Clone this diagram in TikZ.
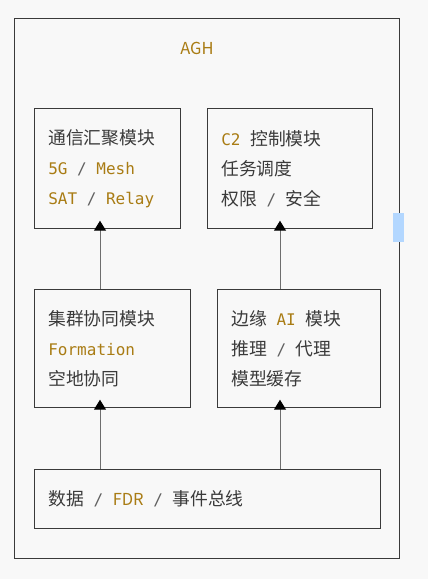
\documentclass[tikz,border=0pt]{standalone}
\usepackage{fontspec}
\setmonofont{DejaVu Sans Mono}
\newfontfamily\cjk{Noto Sans CJK SC}
\usetikzlibrary{arrows.meta}

\definecolor{agold}{HTML}{A97C14}
\definecolor{ink}{HTML}{3A3A3A}
\definecolor{pipe}{HTML}{6E6E6E}
\definecolor{paper}{HTML}{F8F8F8}
\definecolor{selblue}{HTML}{B3D7FF}
\newcommand{\kw}[1]{{\color{agold}#1}}
\newcommand{\zh}[1]{{\cjk\fontsize{17.8}{30}\selectfont #1}}
\newcommand{\zhkw}[1]{{\cjk\fontsize{16.5}{30}\selectfont\color{agold}#1}}
\newcommand{\gap}{\hspace{9.6pt}}
\newcommand{\sep}{\gap{\color{ink!80}/}\gap}

\tikzset{
  module/.style={draw=ink, line width=0.7pt, anchor=north west, align=left,
    inner xsep=14pt, inner ysep=0pt, text=ink,
    font=\ttfamily\fontsize{16}{30}\selectfont},
  link/.style={draw=pipe, line width=1pt, shorten >=-8pt,
    -{Triangle[width=12pt,length=10pt,color=black]}}
}

\begin{document}
\begin{tikzpicture}[x=1pt,y=-1pt]
	\useasboundingbox[fill=paper] (0,0) rectangle (428,579);
	\node[module, minimum width=385pt, minimum height=540pt] (agh) at (14,18) {};
	\node (title) at (197,48) {\zhkw{AGH}};
	\node[module, text width=118pt, minimum height=120pt] (comm) at (34,108)
		{\zh{通信汇聚模块}\\ \kw{5G}\sep\kw{Mesh}\\ \kw{SAT}\sep\kw{Relay}};
	\node[module, text width=137pt, minimum height=120pt] (ctrl) at (207,108)
		{\kw{C2}\gap\zh{控制模块}\\ \zh{任务调度}\\ \zh{权限}\sep\zh{安全}};
	\node[module, text width=128pt, minimum height=118pt] (swarm) at (34,289)
		{\zh{集群协同模块}\\ \kw{Formation}\\ \zh{空地协同}};
	\node[module, text width=135pt, minimum height=118pt] (edge) at (217,289)
		{\zh{边缘}\gap\kw{AI}\gap\zh{模块}\\ \zh{推理}\sep\zh{代理}\\ \zh{模型缓存}};
	\node[module, text width=318pt, minimum height=59pt] (bus) at (34,469)
		{\zh{数据}\sep\zhkw{FDR}\sep\zh{事件总线}};
	\coordinate (colL) at (100,0);
	\coordinate (colR) at (280,0);
	\draw[link] (swarm.north -| colL) -- (comm.south -| colL);
	\draw[link] (edge.north -| colR) -- (ctrl.south -| colR);
	\draw[link] (bus.north -| colL) -- (swarm.south -| colL);
	\draw[link] (bus.north -| colR) -- (edge.south -| colR);
	\fill[selblue] (393,213) rectangle (404,242);
\end{tikzpicture}
\end{document}
